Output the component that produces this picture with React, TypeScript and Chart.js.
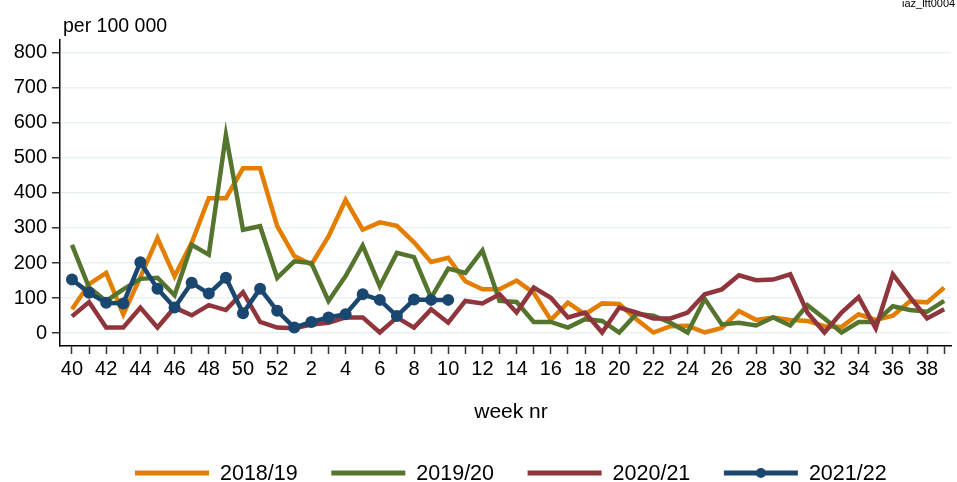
import React, { useEffect, useRef } from "react";
import { Chart, registerables } from "chart.js";

Chart.register(...registerables);

const weekLabels = [
  "40", "41", "42", "43", "44", "45", "46", "47", "48", "49", "50", "51", "52",
  "1", "2", "3", "4", "5", "6", "7", "8", "9", "10", "11", "12", "13", "14", "15",
  "16", "17", "18", "19", "20", "21", "22", "23", "24", "25", "26", "27", "28",
  "29", "30", "31", "32", "33", "34", "35", "36", "37", "38", "39",
];

const yTicks = [0, 100, 200, 300, 400, 500, 600, 700, 800];

const s2018 = [
  68, 140, 172, 54, 160, 271, 162, 258, 385, 385, 470, 470, 305,
  220, 196, 276, 380, 295, 316, 306, 259, 203, 215, 148, 125, 125, 150, 115,
  38, 87, 54, 85, 83, 40, 2, 20, 21, 2, 15, 63, 38,
  45, 38, 35, 20, 18, 54, 38, 50, 91, 88, 130,
];

const s2019 = [
  252, 130, 92, 125, 155, 158, 108, 252, 224, 565, 295, 305, 158,
  205, 200, 92, 163, 250, 134, 229, 217, 101, 184, 172, 236, 92, 89, 32,
  32, 16, 40, 35, 2, 55, 50, 30, 2, 98, 25, 30, 22,
  45, 22, 80, 42, 2, 32, 32, 77, 66, 61, 92,
];

const s2020 = [
  48, 89, 16, 16, 73, 16, 73, 51, 80, 66, 117, 32, 16,
  14, 25, 30, 45, 45, 2, 45, 16, 68, 30, 92, 85, 111, 59, 130,
  101, 45, 59, 2, 73, 59, 42, 42, 59, 111, 125, 165, 151,
  153, 168, 59, 2, 59, 103, 14, 168, 103, 42, 68,
];

const s2021 = [
  153, 115, 87, 85, 202, 127, 73, 144, 113, 158, 57, 127, 64,
  16, 32, 45, 54, 111, 95, 49, 96, 95, 95,
];

const seriesNames = ["2018/19", "2019/20", "2020/21", "2021/22"];
const seriesColors = ["#e37e00", "#55752f", "#90353b", "#1a476f"];

const yTitle = "per 100 000";
const xTitle = "week nr";
const cornerNote = "iaz_lft0004";

const FONT = '"Liberation Sans", Arial, Helvetica, sans-serif';

const toPoints = (arr: number[]) => arr.map((v, i) => ({ x: i, y: v }));

const textPlugin = {
  id: "textPlugin",
  afterDraw(chart: any) {
    const ctx = chart.ctx;
    ctx.save();
    ctx.fillStyle = "#000";
    ctx.textBaseline = "alphabetic";
    ctx.textAlign = "left";
    ctx.font = `19.5px ${FONT}`;
    ctx.fillText(yTitle, 63, 32);

    ctx.font = `11px ${FONT}`;
    ctx.fillText(cornerNote, 902, 7);

    ctx.font = `21px ${FONT}`;
    ctx.textAlign = "center";
    ctx.fillText(xTitle, 511, 418);

    // legend
    const startX = 135;
    const step = 196.3;
    const lineLen = 74;
    const ly = 473;
    ctx.font = `21.5px ${FONT}`;
    ctx.textAlign = "left";
    chart.data.datasets.forEach((ds: any, i: number) => {
      const x0 = startX + i * step;
      ctx.strokeStyle = ds.borderColor;
      ctx.lineWidth = 5;
      ctx.lineCap = "butt";
      ctx.beginPath();
      ctx.moveTo(x0, ly);
      ctx.lineTo(x0 + lineLen, ly);
      ctx.stroke();
      if (ds.pointRadius > 0) {
        ctx.fillStyle = ds.borderColor;
        ctx.beginPath();
        ctx.arc(x0 + lineLen / 2, ly, 5, 0, Math.PI * 2);
        ctx.fill();
      }
      ctx.fillStyle = "#000";
      ctx.fillText(ds.label, x0 + 85, 480);
    });
    ctx.restore();
  },
};

export default function App() {
  const ref = useRef<HTMLCanvasElement | null>(null);

  useEffect(() => {
    if (!ref.current) return;
    const mk = (i: number, data: number[], withPoints: boolean) => ({
      label: seriesNames[i],
      data: toPoints(data),
      borderColor: seriesColors[i],
      backgroundColor: seriesColors[i],
      borderWidth: 4.5,
      pointRadius: withPoints ? 6 : 0,
      pointHoverRadius: withPoints ? 6 : 0,
      pointBorderWidth: 0,
      tension: 0,
      fill: false,
      order: 4 - i,
    });
    const chart = new Chart(ref.current, {
      type: "line",
      data: {
        datasets: [
          mk(0, s2018, false),
          mk(1, s2019, false),
          mk(2, s2020, false),
          mk(3, s2021, true),
        ],
      },
      options: {
        responsive: false,
        devicePixelRatio: 1,
        animation: false,
        layout: { padding: { top: 40, left: 0, right: 0, bottom: 0 } },
        plugins: {
          legend: { display: false },
          tooltip: { enabled: false },
          title: { display: false },
        },
        scales: {
          x: {
            type: "linear",
            min: -0.7,
            max: 51.4,
            afterBuildTicks: (s: any) => {
              s.ticks = weekLabels.map((_, i) => ({ value: i }));
            },
            afterFit: (s: any) => {
              s.height = 136;
            },
            ticks: {
              autoSkip: false,
              maxRotation: 0,
              minRotation: 0,
              padding: 3,
              color: "#000",
              font: { family: FONT, size: 20 },
              callback: (v: any) => {
                const i = Math.round(Number(v));
                return i % 2 === 0 ? weekLabels[i] : "";
              },
            },
            grid: {
              drawOnChartArea: false,
              drawTicks: true,
              tickLength: 8,
              tickColor: "#333",
              tickWidth: 1.5,
            },
            border: { color: "#000", width: 1.5 },
          },
          y: {
            min: -36.5,
            max: 836,
            afterBuildTicks: (s: any) => {
              s.ticks = yTicks.map((v) => ({ value: v }));
            },
            afterFit: (s: any) => {
              s.width = 60;
            },
            ticks: {
              padding: 5,
              color: "#000",
              font: { family: FONT, size: 20 },
            },
            grid: {
              color: "#eaf1f3",
              lineWidth: 1.5,
              drawTicks: true,
              tickLength: 8,
              tickColor: "#333",
              tickWidth: 1.5,
            },
            border: { color: "#000", width: 1.5 },
          },
        },
      },
      plugins: [textPlugin],
    });
    return () => chart.destroy();
  }, []);

  return (
    <div style={{ position: "absolute", left: 0, top: 0, width: 957, height: 482, background: "#fff" }}>
      <canvas ref={ref} width={957} height={482} style={{ display: "block" }} />
    </div>
  );
}
